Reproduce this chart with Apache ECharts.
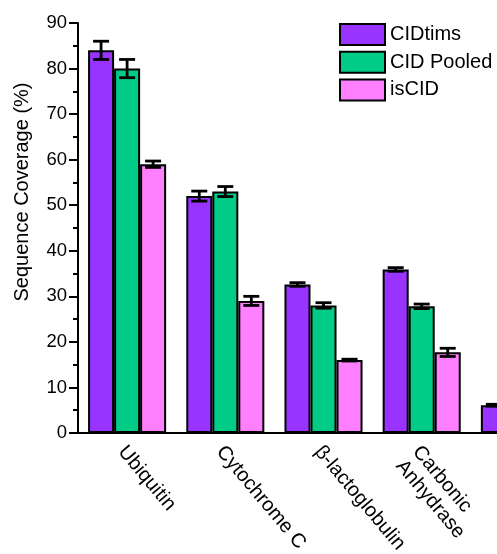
<!DOCTYPE html>
<html>
<head>
<meta charset="utf-8">
<script src="https://cdn.jsdelivr.net/npm/echarts@6/dist/echarts.min.js"></script>
<style>html,body{margin:0;padding:0;background:#fff;overflow:hidden;width:497px;height:554px;}#c{width:569px;height:554px;}</style>
</head>
<body>
<div id="c"></div>
<script>
const categories = ['Ubiquitin', 'Cytochrome C', 'β-lactoglobulin', 'Carbonic\nAnhydrase', ''];
const seriesNames = ['CIDtims', 'CID Pooled', 'isCID'];
const cidTims = [84, 52, 32.6, 35.9, 6.1];
const cidPooled = [80, 53, 28, 27.8, null];
const isCID = [59, 29, 16, 17.7, null];
const errCidTims = [2, 1.1, 0.4, 0.4, 0.2];
const errCidPooled = [2, 1.1, 0.6, 0.5, null];
const errIsCID = [0.7, 1, 0.2, 0.9, null];
const yTicks = [0, 10, 20, 30, 40, 50, 60, 70, 80, 90];

const colors = ['#9933FF', '#00CC88', '#FF80FF'];
const values = [cidTims, cidPooled, isCID];
const errors = [errCidTims, errCidPooled, errIsCID];
const BAR_FRAC = 0.265;
const FONT = 'Liberation Sans, Arial, sans-serif';

const chart = echarts.init(document.getElementById('c'));

const barSeries = seriesNames.map((name, i) => ({
  name: name,
  type: 'bar',
  xAxisIndex: 0,
  data: values[i],
  barWidth: (BAR_FRAC * 100) + '%',
  barGap: '0%',
  itemStyle: { color: colors[i], borderColor: '#000', borderWidth: 2 },
  z: 2
}));

const errSeries = seriesNames.map((name, i) => ({
  name: name + ' err',
  type: 'custom',
  xAxisIndex: 0,
  data: values[i].map((v, k) => (v == null || errors[i][k] == null) ? null : [k, v - errors[i][k], v + errors[i][k]]).filter(d => d),
  renderItem: function (params, api) {
    const k = api.value(0);
    const lo = api.coord([k, api.value(1)]);
    const hi = api.coord([k, api.value(2)]);
    const band = api.size([1, 0])[0];
    const x = lo[0] + (i - 1) * band * BAR_FRAC;
    const half = 8;
    const st = { stroke: '#000', lineWidth: 2.8, fill: null };
    return {
      type: 'group',
      children: [
        { type: 'line', shape: { x1: x, y1: lo[1], x2: x, y2: hi[1] }, style: st },
        { type: 'line', shape: { x1: x - half, y1: lo[1], x2: x + half, y2: lo[1] }, style: st },
        { type: 'line', shape: { x1: x - half, y1: hi[1], x2: x + half, y2: hi[1] }, style: st }
      ]
    };
  },
  z: 5
}));

chart.setOption({
  animation: false,
  backgroundColor: '#fff',
  textStyle: { fontFamily: FONT },
  legend: {
    data: seriesNames,
    orient: 'vertical',
    left: 334,
    top: 18,
    icon: 'rect',
    itemWidth: 45,
    itemHeight: 21,
    itemGap: 4.7,
    textStyle: { fontSize: 20, color: '#000', fontFamily: FONT },
    itemStyle: { borderColor: '#000', borderWidth: 2 }
  },
  grid: { left: 78, right: 0, top: 23, bottom: 121, containLabel: false, outerBoundsMode: 'none' },
  xAxis: [
    {
      type: 'category',
      data: categories,
      axisLine: { lineStyle: { color: '#000', width: 2 } },
      axisTick: { alignWithLabel: true, length: 7, lineStyle: { color: '#000', width: 2 } },
      axisLabel: { rotate: -50, align: 'left', verticalAlign: 'top', padding: [-4, 0, 0, 0], fontSize: 20, color: '#000', fontFamily: FONT, margin: 11, interval: 0, lineHeight: 22 },
      splitLine: { show: false }
    },
    {
      type: 'category',
      data: categories,
      position: 'bottom',
      axisLine: { show: false },
      axisTick: { length: 4, lineStyle: { color: '#000', width: 2 } },
      axisLabel: { show: false },
      splitLine: { show: false }
    }
  ],
  yAxis: {
    type: 'value',
    min: yTicks[0],
    max: yTicks[yTicks.length - 1],
    interval: 10,
    name: 'Sequence Coverage (%)',
    nameLocation: 'middle',
    nameGap: 46,
    nameTextStyle: { fontSize: 20, color: '#000', fontFamily: FONT, padding: [0, 0, 0, 72] },
    axisLine: { show: true, lineStyle: { color: '#000', width: 2 } },
    axisTick: { show: true, length: 9, lineStyle: { color: '#000', width: 2 } },
    minorTick: { show: true, splitNumber: 2, length: 5, lineStyle: { color: '#000', width: 2 } },
    axisLabel: { fontSize: 18.5, color: '#000', fontFamily: FONT, margin: 11 },
    splitLine: { show: false }
  },
  series: barSeries.concat(errSeries)
});
</script>
</body>
</html>
